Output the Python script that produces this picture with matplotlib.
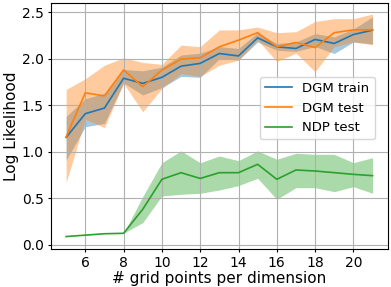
import numpy as np
import matplotlib
matplotlib.use("Agg")
import matplotlib.pyplot as plt

grid_pts = list(range(5, 22))

dgm_train = [1.155, 1.41, 1.47, 1.79, 1.735, 1.80, 1.92, 1.95, 2.056, 2.03, 2.224, 2.128, 2.11, 2.207, 2.164, 2.26, 2.307]
dgm_train_lo = [0.91, 1.27, 1.305, 1.74, 1.61, 1.69, 1.81, 1.80, 2.00, 1.985, 2.18, 2.09, 2.08, 2.13, 2.056, 2.18, 2.16]
dgm_train_hi = [1.38, 1.57, 1.63, 1.885, 1.87, 1.91, 2.04, 2.06, 2.13, 2.11, 2.28, 2.164, 2.18, 2.27, 2.235, 2.32, 2.45]

dgm_test = [1.16, 1.634, 1.60, 1.88, 1.70, 1.878, 1.996, 2.01, 2.128, 2.20, 2.28, 2.128, 2.175, 2.12, 2.28, 2.31, 2.31]
dgm_test_lo = [0.67, 1.35, 1.26, 1.735, 1.43, 1.68, 1.84, 1.81, 1.93, 1.985, 2.20, 1.97, 2.06, 1.86, 2.13, 2.18, 2.15]
dgm_test_hi = [1.67, 1.785, 1.93, 2.01, 1.96, 1.94, 2.146, 2.13, 2.31, 2.31, 2.34, 2.28, 2.29, 2.40, 2.43, 2.43, 2.48]

ndp_test = [0.09, 0.105, 0.12, 0.125, 0.383, 0.705, 0.776, 0.714, 0.776, 0.776, 0.866, 0.705, 0.805, 0.794, 0.776, 0.758, 0.744]
ndp_test_lo = [0.09, 0.105, 0.12, 0.125, 0.24, 0.526, 0.544, 0.555, 0.59, 0.637, 0.716, 0.49, 0.615, 0.615, 0.572, 0.626, 0.555]
ndp_test_hi = [0.09, 0.105, 0.12, 0.125, 0.52, 0.883, 1.01, 0.883, 0.955, 0.905, 1.01, 0.92, 0.984, 0.973, 0.973, 0.883, 0.937]

fig = plt.figure(figsize=(3.91, 2.87), dpi=100)
ax = fig.add_axes([0.13, 0.132, 0.862, 0.858])

ax.plot(grid_pts, dgm_train, color="C0", lw=1.2, label="DGM train")
ax.fill_between(grid_pts, dgm_train_lo, dgm_train_hi, color="C0", alpha=0.4, lw=0)
ax.plot(grid_pts, dgm_test, color="C1", lw=1.2, label="DGM test")
ax.fill_between(grid_pts, dgm_test_lo, dgm_test_hi, color="C1", alpha=0.4, lw=0)
ax.plot(grid_pts, ndp_test, color="C2", lw=1.2, label="NDP test")
ax.fill_between(grid_pts, ndp_test_lo, ndp_test_hi, color="C2", alpha=0.4, lw=0)

ax.set_ylim(-0.045, 2.6)
ax.set_xticks([6, 8, 10, 12, 14, 16, 18, 20])
ax.set_yticks([0.0, 0.5, 1.0, 1.5, 2.0, 2.5])
ax.grid(True)
ax.set_xlabel("# grid points per dimension", fontsize=11, labelpad=1)
ax.set_ylabel("Log Likelihood", fontsize=11, labelpad=2)
ax.tick_params(labelsize=10, length=2.5, pad=2.5)
ax.legend(loc="upper right", bbox_to_anchor=(0.961, 0.7), borderaxespad=0, fontsize=9.5)

fig.savefig("out.png", dpi=100)
